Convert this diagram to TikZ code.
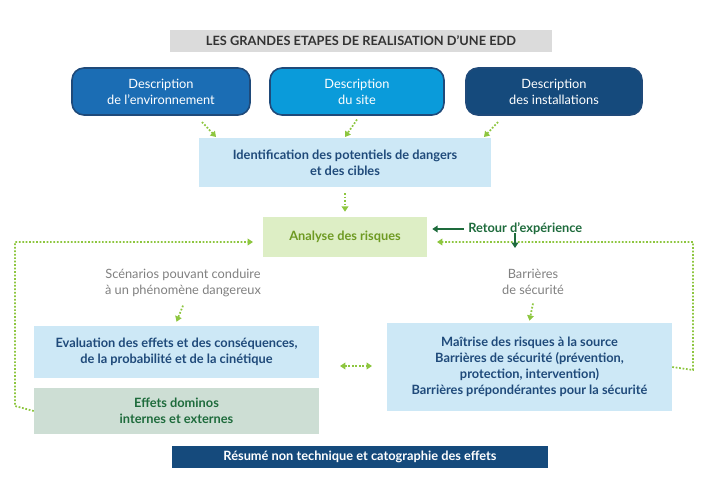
\documentclass[tikz,border=0pt]{standalone}
\usepackage{fontspec}
\setmainfont{Lato}
\usetikzlibrary{arrows.meta,positioning}
\definecolor{cyanf}{HTML}{CDE8F6}
\definecolor{navy}{HTML}{1F4A7A}
\definecolor{dkblue}{HTML}{154A7C}
\definecolor{midblue}{HTML}{1B6DB4}
\definecolor{skyblue}{HTML}{0A9BDA}
\definecolor{lime}{HTML}{8DC63F}
\definecolor{olive}{HTML}{6E9A22}
\definecolor{dkgreen}{HTML}{1E6B3C}
\tikzset{
  box/.style={rectangle, inner sep=0pt, align=center, font=\fontsize{9.6}{12}\selectfont\bfseries, text=navy, fill=cyanf},
  pill/.style={rectangle, rounded corners=9pt, draw=navy, line width=1.2pt, inner sep=0pt, align=center, font=\fontsize{9.6}{12}\selectfont, text=white, minimum height=47*0.75pt},
  note/.style={align=center, font=\fontsize{9.6}{12}\selectfont, text=gray},
  dots/.style={lime, line width=1.3pt, dash pattern=on 1.3pt off 1.3pt, -{Triangle[length=4pt,width=5pt]}},
}
\begin{document}
\begin{tikzpicture}[x=0.75pt, y=-0.75pt]
\useasboundingbox (0,0) rectangle (721,486);
% title
\node[box, fill=black!14, text=black!80, minimum width=382*0.75pt, minimum height=22*0.75pt] (title) at (361,41) {LES GRANDES ETAPES DE REALISATION D’UNE EDD};
% three sources
\node[pill, fill=midblue, minimum width=178*0.75pt] (env) at (161,91.5) {Description\\de l’environnement};
\node[pill, fill=skyblue, minimum width=174*0.75pt] (site) at (357,91.5) {Description\\du site};
\node[pill, fill=dkblue, minimum width=176*0.75pt] (inst) at (554,91.5) {Description\\des installations};
% main chain
\node[box, minimum width=292*0.75pt, minimum height=49*0.75pt] (ident) at (345,162.5) {Identification des potentiels de dangers\\et des cibles};
\node[box, fill=lime!30, text=olive, minimum width=164*0.75pt, minimum height=40*0.75pt] (analyse) at (345,237) {Analyse des risques};
\node[font=\fontsize{9.6}{12}\selectfont\bfseries, text=dkgreen, anchor=west, inner sep=0pt] (retour) at (468,229) {Retour d’expérience};
\node[note] (scen) at (183,283) {Scénarios pouvant conduire\\à un phénomène dangereux};
\node[note] (barr) at (533,282) {Barrières\\de sécurité};
\node[box, minimum width=285*0.75pt, minimum height=52*0.75pt] (eval) at (176.5,352) {Evaluation des effets et des conséquences,\\de la probabilité et de la cinétique};
\node[box, fill=dkgreen!22, text=dkgreen, minimum width=285*0.75pt, minimum height=46*0.75pt] (domino) at (176.5,411) {Effets dominos\\internes et externes};
\node[box, minimum width=285*0.75pt, minimum height=88*0.75pt] (maitrise) at (529.5,367) {Maîtrise des risques à la source\\Barrières de sécurité (prévention,\\protection, intervention)\\Barrières prépondérantes pour la sécurité};
\node[box, fill=dkblue, text=white, minimum width=376*0.75pt, minimum height=22*0.75pt] (resume) at (360,457) {Résumé non technique et catographie des effets};
% connectors
\coordinate (p1) at (202,122); \coordinate (p2) at (498,122);
\draw[dots] (p1) -- (216,137);
\draw[dots] (site.south) ++(0,5*0.75) -- (345,137);
\draw[dots] (p2) -- (484,137);
\draw[dots] ([yshift=-6*0.75pt]ident.south) -- ([yshift=5*0.75pt]analyse.north);
\draw[dots] ([yshift=-4*0.75pt]scen.south) -- ([yshift=4*0.75pt]eval.north);
\draw[dots] ([yshift=-4*0.75pt]barr.south) -- ([yshift=2*0.75pt]maitrise.north);
\draw[dots, {Triangle[length=4pt,width=5pt]}-{Triangle[length=4pt,width=5pt]}] (340,366) -- (372,366);
\draw[dots] (domino.west) -- (15,406) -- (15,242) -- (253,242);
\draw[dots] (maitrise.east) -- (693,370) -- (693,242) -- (437,242);
\draw[dkgreen, line width=1.3pt, -{Triangle[length=4pt,width=5pt]}] (retour.west) ++(-6*0.75,0) -- ([xshift=5*0.75pt]analyse.east |- retour.west);
\draw[dkgreen, line width=1.1pt, -{Triangle[length=4pt,width=5pt]}] (515,233) -- (515,248);
\end{tikzpicture}
\end{document}
